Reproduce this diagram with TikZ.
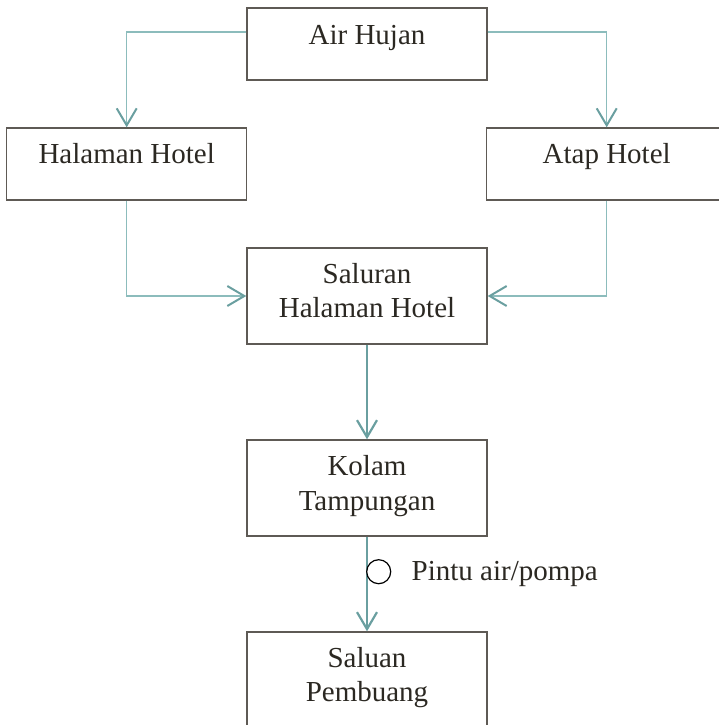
\documentclass[tikz,border=0pt]{standalone}
\usepackage{fontspec}
\setmainfont{Liberation Serif}
\usetikzlibrary{arrows.meta,calc}
\definecolor{txtc}{HTML}{2B2822}
\definecolor{boxc}{HTML}{5E5A55}
\definecolor{tealc}{HTML}{6A9FA0}
\definecolor{teallt}{HTML}{8CBCBC}
\begin{document}
\begin{tikzpicture}[x=1pt,y=-1pt,
  box/.style={draw=boxc,line width=1.4pt,minimum width=240pt,minimum height=72pt,inner sep=0pt},
  tallbox/.style={box,minimum height=96pt},
  txt/.style={text=txtc,font=\fontsize{29}{34.5}\selectfont,align=center,inner sep=0pt,anchor=base},
  elbow/.style={draw=teallt,line width=1.3pt,-{Straight Barb[length=17pt,width=20pt,line width=2pt,color=tealc]}},
  conn/.style={draw=tealc,line width=2.2pt,-{Straight Barb[length=17pt,width=20pt]}}]
\path[use as bounding box] (0,0) rectangle (719,725);
\clip (0,0) rectangle (719,725);
\node[box] (air) at (367,44) {};
\node[box] (hal) at (126.7,164) {};
\node[box] (atap) at (606.7,164) {};
\node[tallbox] (sal) at (367,296) {};
\node[tallbox] (kol) at (367,488) {};
\node[tallbox] (pem) at (367,680) {};
\node[txt] (tair) at ($(air.north)+(0,37)$) {Air Hujan};
\node[txt] (thal) at ($(hal.north)+(0,36.5)$) {Halaman Hotel};
\node[txt] (tatap) at ($(atap.north)+(0,36.5)$) {Atap Hotel};
\node[txt] (tsal) at ($(sal.north)+(0,70.3)$) {Saluran\\Halaman Hotel};
\node[txt] (tkol) at ($(kol.north)+(0,71)$) {Kolam\\Tampungan};
\node[txt] (tpem) at ($(pem.north)+(0,70.5)$) {Saluan\\Pembuang};
\draw[elbow] ([yshift=12pt]air.west) -| (hal.north);
\draw[elbow] ([yshift=12pt]air.east) -| (atap.north);
\draw[elbow] (hal.south) |- (sal.west);
\draw[elbow] (atap.south) |- (sal.east);
\draw[conn] (sal.south) -- (kol.north);
\draw[conn] (kol.south) -- (pem.north);
\node[circle,draw=black,line width=1.2pt,fill=white,minimum size=24pt,inner sep=0pt] (gate) at (378.7,571.7) {};
\node[txt,anchor=base west] (tgate) at (411.5,580.5) {Pintu air/pompa};
\end{tikzpicture}
\end{document}
